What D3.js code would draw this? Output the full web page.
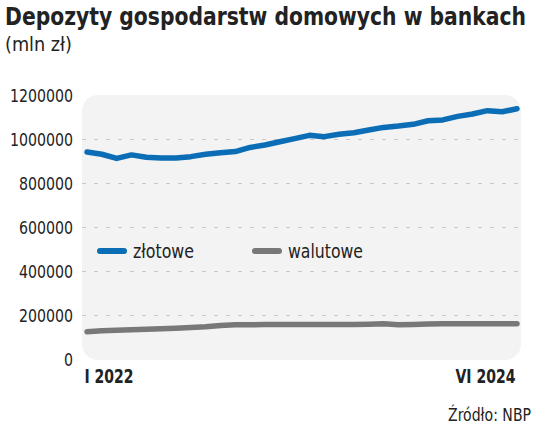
<!DOCTYPE html>
<html>
<head>
<meta charset="utf-8">
<script src="https://cdn.jsdelivr.net/npm/d3@7"></script>
<style>
  body { margin: 0; background: #fff; }
  svg text { font-family: "DejaVu Sans Condensed", "DejaVu Sans", sans-serif; fill: #222; }
</style>
</head>
<body>
<svg id="chart" width="536" height="428"></svg>
<script>
// monthly, I 2022 .. VI 2024 (mln zł)
const months = d3.range(30);
const xLabels = ['I 2022', 'VI 2024'];
const zlotowe = [943000, 933000, 914000, 930000, 919000, 916000, 916000, 922000, 933000, 940000,
  945000, 964000, 975000, 990000, 1004000, 1019000, 1013000, 1024000, 1031000, 1043000,
  1055000, 1061000, 1069000, 1085000, 1089000, 1105000, 1116000, 1131000, 1126000, 1140000];
const walutowe = [126000, 131000, 133000, 135000, 137000, 140000, 142000, 145000, 149000, 155000,
  158000, 158000, 159000, 159000, 159000, 159000, 159000, 159000, 159000, 160000,
  162000, 158000, 159000, 161000, 162000, 163000, 163000, 163000, 163000, 163000];
const yTicks = [0, 200000, 400000, 600000, 800000, 1000000, 1200000];

const svg = d3.select('#chart');

// squeeze text to a set width (the original font is condensed)
function fit(sel, w) {
  sel.attr('textLength', w).attr('lengthAdjust', 'spacingAndGlyphs');
}

// plot box
const box = {left: 82, right: 521, top: 95, bottom: 360};
const x = d3.scaleLinear().domain([0, 29]).range([87, 517]);
const y = d3.scaleLinear().domain([0, 1200000]).range([359.5, 95.5]);

svg.append('text').attr('x', 5).attr('y', 25)
  .style('font-size', '25px').style('font-weight', 'bold')
  .text('Depozyty gospodarstw domowych w bankach')
  .call(fit, 521);
svg.append('text').attr('x', 5).attr('y', 51)
  .style('font-size', '20px')
  .text('(mln zł)')
  .call(fit, 67);

svg.append('rect')
  .attr('x', box.left).attr('y', box.top)
  .attr('width', box.right - box.left).attr('height', box.bottom - box.top)
  .attr('rx', 16).attr('fill', '#f3f3f3');

// dashed grid
svg.append('g').selectAll('line')
  .data(yTicks.filter(d => d > 0 && d < 1200000))
  .join('line')
  .attr('x1', box.left).attr('x2', box.right)
  .attr('y1', d => y(d)).attr('y2', d => y(d))
  .attr('stroke', '#c8c8c8').attr('stroke-width', 1.2)
  .attr('stroke-dasharray', '4,8');

// y axis
const yAxis = svg.append('g')
  .attr('transform', `translate(${box.left},0)`)
  .call(d3.axisLeft(y).tickValues(yTicks).tickSize(0).tickPadding(9).tickFormat(d => String(d)));
yAxis.select('.domain').remove();
yAxis.selectAll('text')
  .style('font-size', '17.5px').attr('fill', '#222')
  .style('font-family', '"DejaVu Sans Condensed", "DejaVu Sans", sans-serif')
  .each(function(d) { d3.select(this).call(fit, String(d).length * 9); });

// x axis: first and last month only
const xAxis = svg.append('g')
  .attr('transform', 'translate(0,369)')
  .call(d3.axisBottom(x).tickValues([0, 29]).tickSize(0).tickPadding(0)
    .tickFormat((d, i) => xLabels[i]));
xAxis.select('.domain').remove();
xAxis.selectAll('text')
  .style('font-size', '19px').style('font-weight', 'bold').attr('fill', '#222')
  .style('font-family', '"DejaVu Sans Condensed", "DejaVu Sans", sans-serif')
  .attr('text-anchor', (d, i) => i === 0 ? 'start' : 'end')
  .attr('dx', (d, i) => i === 0 ? -3 : -2)
  .each(function(d, i) { d3.select(this).call(fit, i === 0 ? 49 : 60); });

const line = d3.line().x((d, i) => x(months[i])).y(d => y(d));

svg.append('path').datum(walutowe)
  .attr('d', line).attr('fill', 'none')
  .attr('stroke', '#787878').attr('stroke-width', 5.5)
  .attr('stroke-linecap', 'round').attr('stroke-linejoin', 'round');
svg.append('path').datum(zlotowe)
  .attr('d', line).attr('fill', 'none')
  .attr('stroke', '#0a6db5').attr('stroke-width', 5.5)
  .attr('stroke-linecap', 'round').attr('stroke-linejoin', 'round');

// legend
const legend = [
  {name: 'złotowe', color: '#0a6db5', x: 100, w: 61},
  {name: 'walutowe', color: '#787878', x: 255, w: 75}
];
const lg = svg.append('g').selectAll('g').data(legend).join('g')
  .attr('transform', d => `translate(${d.x},251)`);
lg.append('line').attr('x1', 0).attr('x2', 24)
  .attr('stroke', d => d.color).attr('stroke-width', 6).attr('stroke-linecap', 'round');
lg.append('text').attr('x', 33).attr('y', 7)
  .style('font-size', '20px').text(d => d.name)
  .each(function(d) { d3.select(this).call(fit, d.w); });

svg.append('text').attr('x', 531).attr('y', 421)
  .attr('text-anchor', 'end').style('font-size', '17px')
  .text('Źródło: NBP')
  .call(fit, 83);
</script>
</body>
</html>
